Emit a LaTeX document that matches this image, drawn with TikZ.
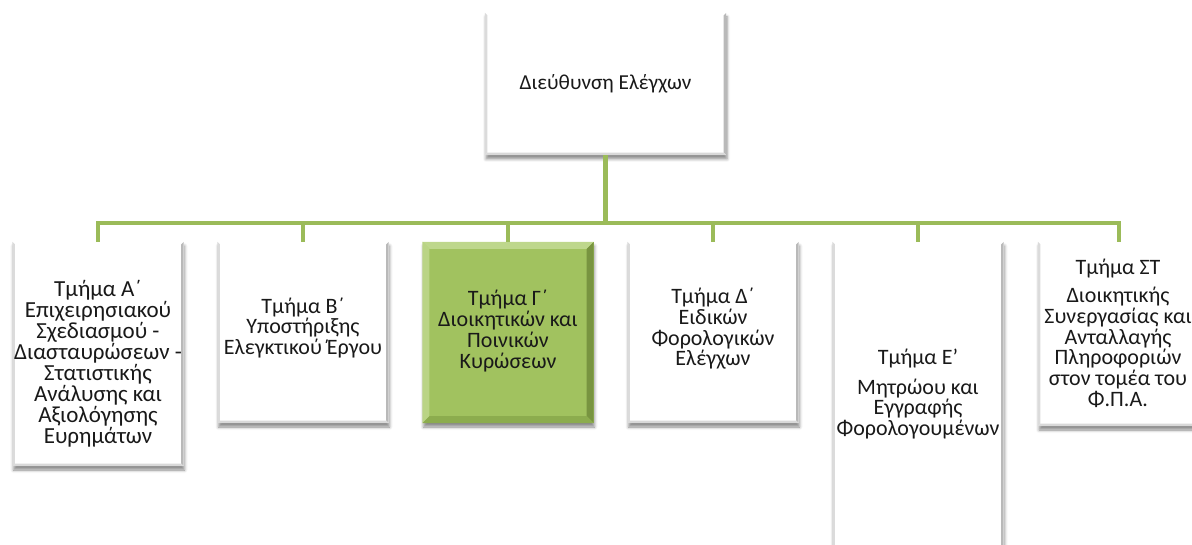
\documentclass[tikz,border=0pt]{standalone}
\usepackage{fontspec}
\setmainfont{Carlito}
\usetikzlibrary{calc,shadows.blur}

\definecolor{linkgreen}{RGB}{155,187,89}
\definecolor{boxgreen}{RGB}{161,194,95}
\definecolor{greenlight}{RGB}{190,215,140}
\definecolor{greendark}{RGB}{120,148,64}
\definecolor{greenmid}{RGB}{140,172,78}
\definecolor{ink}{RGB}{25,25,25}

\tikzset{
  unit/.style={inner sep=0pt,
    blur shadow={shadow xshift=1pt, shadow yshift=-4pt, shadow blur radius=3pt, shadow opacity=45}},
  plainunit/.style={unit, fill=white},
  greenunit/.style={unit, fill=boxgreen},
  conn/.style={draw=linkgreen, line width=4.5pt},
  lbl/.style={align=center, text=ink, inner sep=0pt, font=\fontsize{22}{20.7}\selectfont}
}

% bevelled edges drawn over a node: node, top, left, right, bottom colours, inset
\newcommand{\bevelbox}[6]{%
  \path (#1.north west) coordinate (bnw) (#1.north east) coordinate (bne)
        (#1.south west) coordinate (bsw) (#1.south east) coordinate (bse)
        ($(bnw)+(#6,#6)$) coordinate (inw) ($(bne)+(-#6,#6)$) coordinate (ine)
        ($(bsw)+(#6,-#6)$) coordinate (isw) ($(bse)+(-#6,-#6)$) coordinate (ise);
  \fill[#2] (bnw) -- (bne) -- (ine) -- (inw) -- cycle;
  \fill[#3] (bnw) -- (inw) -- (isw) -- (bsw) -- cycle;
  \fill[#4] (bne) -- (bse) -- (ise) -- (ine) -- cycle;
  \fill[#5] (bsw) -- (isw) -- (ise) -- (bse) -- cycle;
}

\begin{document}
\begin{tikzpicture}[x=1pt,y=-1pt]
\useasboundingbox (0,0) rectangle (1192,545);

% head of the directorate
\node[plainunit, minimum width=241pt, minimum height=142pt] (top) at (605.5,84) {};

% departments
\node[plainunit, minimum width=171pt, minimum height=224pt] (a) at (98,354) {};
\node[plainunit, minimum width=171pt, minimum height=181pt] (b) at (303,332.5) {};
\node[greenunit, minimum width=171pt, minimum height=181pt] (c) at (508,332.5) {};
\node[plainunit, minimum width=171pt, minimum height=181pt] (d) at (713,332.5) {};
\node[plainunit, minimum width=171pt, minimum height=330pt] (e) at (918,407) {};
\node[plainunit, minimum width=162pt, minimum height=184pt] (f) at (1119,334) {};

\foreach \n in {top,a,b,d,e,f}{\bevelbox{\n}{white}{gray!28}{gray!55}{gray!30}{2.5}}
\bevelbox{c}{greenlight}{greenlight!85!boxgreen}{greendark}{greenmid}{7}

% labels
\node[lbl, font=\fontsize{21.3}{21}\selectfont] (ttop) at (top.center) {Διεύθυνση Ελέγχων};
\node[lbl, font=\fontsize{23}{21}\selectfont] (ta) at (98,364) {Τμήμα Α΄\\Επιχειρησιακού\\Σχεδιασμού -\\Διασταυρώσεων -\\Στατιστικής\\Ανάλυσης και\\Αξιολόγησης\\Ευρημάτων};
\node[lbl] (tb) at (303,328) {Τμήμα Β΄\\Υποστήριξης\\Ελεγκτικού Έργου};
\node[lbl] (tc) at (508,331) {Τμήμα Γ΄\\Διοικητικών και\\Ποινικών\\Κυρώσεων};
\node[lbl] (td) at (713,329) {Τμήμα Δ΄\\Ειδικών\\Φορολογικών\\Ελέγχων};
\node[lbl] (te) at (918,394) {Τμήμα Ε{\char"0027}\\[9pt]Μητρώου και\\Εγγραφής\\Φορολογουμένων};
\node[lbl] (tf) at (1118,333) {Τμήμα ΣΤ\\[8pt]Διοικητικής\\Συνεργασίας και\\Ανταλλαγής\\Πληροφοριών\\στον τομέα του\\Φ.Π.Α.};

% connectors from the directorate to each department
\foreach \n in {a,b,c,d,e,f}{\draw[conn] (top.south) -- ++(0,68) -| (\n.north);}
\end{tikzpicture}
\end{document}
